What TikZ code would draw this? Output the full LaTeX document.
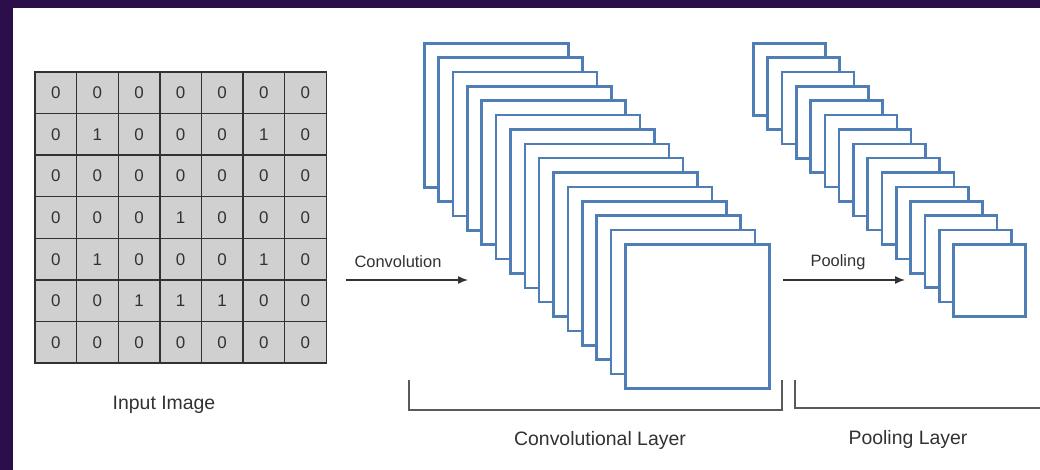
\documentclass[tikz,border=0pt]{standalone}
\usepackage{fontspec}
\setmainfont{Liberation Sans}
\usetikzlibrary{arrows.meta}
\definecolor{frame}{RGB}{44,14,74}
\definecolor{mapblue}{RGB}{79,125,181}
\definecolor{cellgray}{RGB}{208,208,208}
\definecolor{gridline}{RGB}{50,50,50}
\definecolor{ink}{RGB}{50,50,50}
\definecolor{bracketgray}{RGB}{90,90,90}
\tikzset{
  cell/.style={draw=gridline, line width=1.4bp, fill=cellgray, minimum size=41.6bp,
    inner sep=0pt, text=ink, font=\fontsize{17}{18}\selectfont},
  fmap/.style={draw=mapblue, line width=2.6bp, fill=white, inner sep=0pt},
  caption/.style={text=ink, font=\fontsize{19.5}{22}\selectfont},
  oplabel/.style={text=ink, font=\fontsize{16.5}{18}\selectfont},
  oparrow/.style={draw=ink, line width=1.4bp, -{Latex[length=10bp,width=8bp]}},
  brace/.style={draw=bracketgray, line width=2bp},
}
\begin{document}
\begin{tikzpicture}[x=1bp, y=-1bp]
\useasboundingbox (0,0) rectangle (1040,470);
\begin{scope}
\clip (0,0) rectangle (1040,470);
\fill[white] (0,0) rectangle (1040,470);
% frame bands along the top and left edges
\fill[frame] (0,0) rectangle (1040,8);
\fill[frame] (0,0) rectangle (13,470);

% input image: 7x7 grid of pixel values
\foreach \row/\vals in {1/{0,0,0,0,0,0,0},2/{0,1,0,0,0,1,0},3/{0,0,0,0,0,0,0},
  4/{0,0,0,1,0,0,0},5/{0,1,0,0,0,1,0},6/{0,0,1,1,1,0,0},7/{0,0,0,0,0,0,0}}{
  \foreach \v [count=\col] in \vals {
    \node[cell] (c-\row-\col) at ({35+41.6*(\col-0.5)},{72+41.6*(\row-0.5)}) {\v};
  }
}
\node[caption] (inlabel) at (164,405) {Input Image};

% convolutional layer: stack of 15 feature maps
\foreach \i in {0,...,14}{
  \node[fmap, minimum size=144bp, anchor=north west] (conv\i) at ({423+14.36*\i},{42+14.36*\i}) {};
}
% pooling layer: stack of 15 reduced maps
\foreach \i in {0,...,14}{
  \node[fmap, minimum size=72bp, anchor=north west] (pool\i) at ({752+14.3*\i},{42+14.36*\i}) {};
}

% operation arrows
\coordinate (convA) at (346,280);
\coordinate (convB) at (468,280);
\draw[oparrow] (convA) -- (convB);
\node[oplabel] (convlabel) at (398,262) {Convolution};
\coordinate (poolA) at (783,280);
\coordinate (poolB) at (905,280);
\draw[oparrow] (poolA) -- (poolB);
\node[oplabel] (poollabel) at (838,262) {Pooling};

% layer brackets
\coordinate (cb1) at (409,380);
\coordinate (cb2) at (782,380);
\draw[brace] (cb1) -- ++(0,30) -| (cb2);
\node[caption] (convcap) at (600,440) {Convolutional Layer};
\coordinate (pb1) at (795,380);
\coordinate (pb2) at (1050,380);
\draw[brace] (pb1) -- ++(0,28) -| (pb2);
\node[caption] (poolcap) at (908,439) {Pooling Layer};
\end{scope}
\end{tikzpicture}
\end{document}
